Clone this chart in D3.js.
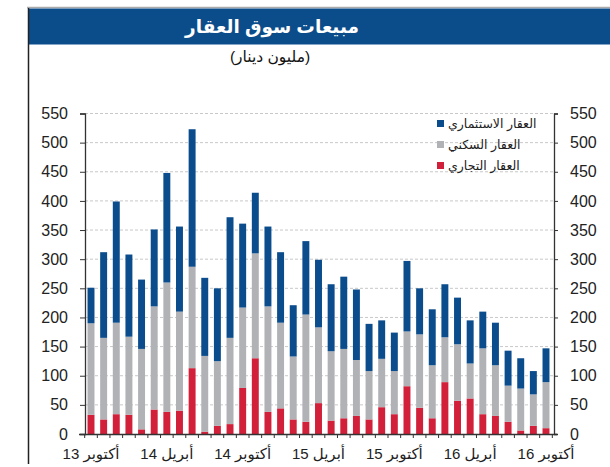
<!DOCTYPE html>
<html lang="ar">
<head>
<meta charset="UTF-8">
<title>مبيعات سوق العقار</title>
<script src="https://d3js.org/d3.v7.min.js"></script>
<style>
  body { margin: 0; background: #fff; }
  svg { display: block; font-family: "Liberation Sans", "DejaVu Sans", Arial, sans-serif; }
</style>
</head>
<body>
<div id="chart"></div>
<script>
  // months Oct 2013 .. Oct 2016
  const months = d3.range(37).map(i => "m" + i);

  // x labels every 6 months (index into months)
  const tickIdx = [0, 6, 12, 18, 24, 30, 36];
  const tickLabels = ["أكتوبر 13", "أبريل 14", "أكتوبر 14", "أبريل 15", "أكتوبر 15", "أبريل 16", "أكتوبر 16"];

  // million dinars
  const commercial = [33, 25, 34, 33, 8, 42, 38, 40, 113, 4, 14, 17, 79, 130, 38, 44, 25, 21,
    53, 23, 27, 31, 25, 46, 34, 82, 45, 27, 89, 57, 61, 34, 31, 21, 6, 14, 10];
  const residential = [157, 140, 157, 134, 138, 177, 222, 170, 174, 130, 111, 148, 138, 180, 181, 147, 108, 184,
    130, 119, 119, 96, 83, 83, 74, 94, 126, 91, 77, 97, 60, 113, 87, 62, 72, 54, 79];
  const investment = [61, 147, 208, 141, 119, 132, 188, 146, 236, 134, 125, 207, 144, 104, 137, 121, 88, 126,
    116, 115, 124, 121, 81, 66, 66, 121, 79, 96, 91, 80, 74, 63, 73, 60, 52, 40, 58];

  const seriesKeys = ["commercial", "residential", "investment"];
  const seriesNames = {
    investment: "العقار الاستثماري",
    residential: "العقار السكني",
    commercial: "العقار التجاري"
  };
  const colors = { commercial: "#d3203a", residential: "#b1b2b6", investment: "#0b4c8c" };

  const yTicks = d3.range(0, 551, 50);

  const width = 610, height = 467;
  const rows = months.map((m, i) => ({
    month: m,
    commercial: commercial[i],
    residential: residential[i],
    investment: investment[i]
  }));

  const svg = d3.select("#chart").append("svg")
    .attr("width", width)
    .attr("height", height);

  // frame + title bar
  svg.append("line").attr("x1", 27).attr("x2", width).attr("y1", 7.5).attr("y2", 7.5)
    .attr("stroke", "#aaa").attr("stroke-width", 1.5);
  svg.append("rect").attr("x", 28).attr("y", 8.5).attr("width", width - 28).attr("height", 36)
    .attr("fill", "#0b4d8b");
  svg.append("line").attr("x1", 28.5).attr("x2", 28.5).attr("y1", 8).attr("y2", 464)
    .attr("stroke", "#222").attr("stroke-width", 1.5);

  svg.append("text")
    .attr("x", 272).attr("y", 33)
    .attr("text-anchor", "middle")
    .attr("direction", "rtl")
    .attr("fill", "#fff")
    .attr("font-size", 18.5)
    .attr("font-weight", "bold")
    .text("مبيعات سوق العقار");

  svg.append("text")
    .attr("x", 270).attr("y", 62)
    .attr("text-anchor", "middle")
    .attr("direction", "rtl")
    .attr("fill", "#111")
    .attr("font-size", 15.5)
    .text("(مليون دينار)");

  const x = d3.scaleBand()
    .domain(months)
    .range([85, 552])
    .paddingInner(0.45)
    .paddingOuter(0.2);

  const y = d3.scaleLinear().domain([0, 550]).range([434, 113.5]);

  const leftX = 85, rightX = 554;

  // gridlines
  svg.append("g")
    .selectAll("line")
    .data(yTicks.filter(d => d > 0))
    .join("line")
    .attr("x1", leftX).attr("x2", rightX)
    .attr("y1", d => y(d)).attr("y2", d => y(d))
    .attr("stroke", "#c8c8c8")
    .attr("stroke-dasharray", "3,2");

  // stacked bars
  const stack = d3.stack().keys(seriesKeys);
  const layers = stack(rows);

  svg.append("g")
    .selectAll("g")
    .data(layers)
    .join("g")
    .attr("fill", d => colors[d.key])
    .selectAll("rect")
    .data(d => d)
    .join("rect")
    .attr("x", d => x(d.data.month))
    .attr("width", x.bandwidth())
    .attr("y", d => y(d[1]))
    .attr("height", d => y(d[0]) - y(d[1]));

  // y axes
  const axisL = svg.append("g")
    .attr("transform", `translate(${leftX},0)`)
    .call(d3.axisLeft(y).tickValues(yTicks).tickSize(5).tickPadding(12));
  const axisR = svg.append("g")
    .attr("transform", `translate(${rightX},0)`)
    .call(d3.axisRight(y).tickValues(yTicks).tickSize(4).tickPadding(12));

  [axisL, axisR].forEach(a => {
    a.select(".domain").attr("stroke", "#333").attr("stroke-width", 1.3);
    a.selectAll(".tick line").attr("stroke", "#333");
    a.selectAll("text").attr("font-size", 16).attr("fill", "#222")
      .attr("font-family", "'Liberation Sans', Arial, sans-serif");
  });

  // x axis
  const xg = svg.append("g");
  xg.append("line")
    .attr("x1", 79).attr("x2", 557)
    .attr("y1", 434.5).attr("y2", 434.5)
    .attr("stroke", "#333").attr("stroke-width", 1.3);
  const step = x.step();
  const bounds = months.map(m => x(m) + x.bandwidth() / 2 - step / 2)
    .concat([x(months[months.length - 1]) + x.bandwidth() / 2 + step / 2]);
  xg.selectAll("line.tk")
    .data(bounds)
    .join("line")
    .attr("class", "tk")
    .attr("x1", d => d).attr("x2", d => d)
    .attr("y1", 434).attr("y2", 438)
    .attr("stroke", "#333");
  xg.selectAll("text")
    .data(tickIdx)
    .join("text")
    .attr("x", d => x(months[d]) + x.bandwidth() / 2)
    .attr("y", 459)
    .attr("text-anchor", "middle")
    .attr("direction", "rtl")
    .attr("font-size", 15)
    .attr("fill", "#222")
    .text((d, i) => tickLabels[i]);

  // legend
  const legendKeys = ["investment", "residential", "commercial"];
  const lg = svg.append("g")
    .selectAll("g")
    .data(legendKeys)
    .join("g")
    .attr("transform", (d, i) => `translate(437,${120 + i * 21})`);
  lg.append("rect")
    .attr("width", 7).attr("height", 7)
    .attr("fill", d => colors[d]);
  lg.append("text")
    .attr("x", 11).attr("y", 7.5)
    .attr("text-anchor", "start")
    .attr("font-size", 12.5)
    .attr("fill", "#222")
    .text(d => seriesNames[d]);
</script>
</body>
</html>
